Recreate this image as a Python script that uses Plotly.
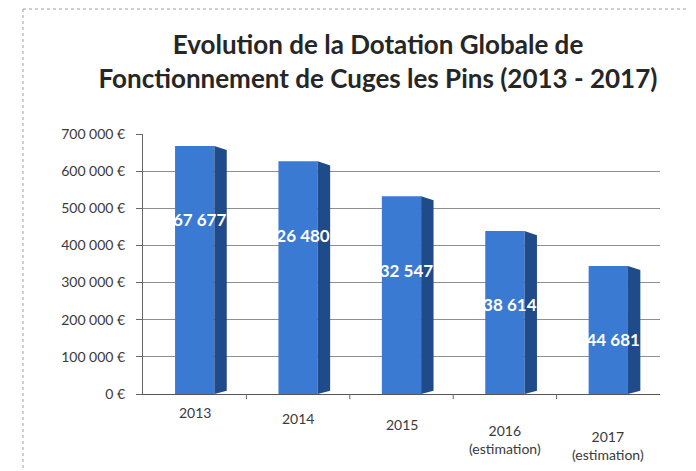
import plotly.graph_objects as go

categories = ["2013", "2014", "2015", "2016<br>(estimation)", "2017<br>(estimation)"]
values = [667677, 626480, 532547, 438614, 344681]
value_labels = ["667 677", "626 480", "532 547", "438 614", "344 681"]
y_ticks = [0, 100000, 200000, 300000, 400000, 500000, 600000, 700000]
y_tick_labels = ["0 €", "100 000 €", "200 000 €", "300 000 €", "400 000 €", "500 000 €", "600 000 €", "700 000 €"]

FRONT = "#3B7AD3"
SIDE = "#1F4B8A"
W = 0.38
DX = 0.12

# page offset compensation (body margin of 8px)
OFF = 8
L, T, PW, PH = 143 - OFF, 134 - OFF, 517, 260

xs = list(range(len(categories)))
fig = go.Figure()

for i, v in zip(xs, values):
    xr = i + W / 2
    fig.add_trace(go.Scatter(
        x=[xr, xr + DX, xr + DX, xr, xr],
        y=[0, 9000, v - 11000, v, 0],
        mode="lines", fill="toself", fillcolor=SIDE,
        line=dict(width=0, color=SIDE), hoverinfo="skip", showlegend=False))

fig.add_trace(go.Bar(
    x=xs, y=values, width=W, marker=dict(color=FRONT, line=dict(width=0)),
    showlegend=False, hoverinfo="skip"))

fig.add_trace(go.Scatter(
    x=xs, y=[v - 205000 for v in values], mode="text", text=value_labels,
    textfont=dict(family="Lato", size=17, color="white", weight="bold"),
    showlegend=False, hoverinfo="skip"))

# category labels with a slight perspective drop
for i, c in zip(xs, categories):
    fig.add_annotation(x=i, xref="x", y=0, yref="paper", yanchor="top",
                       yshift=-8 - 6 * i, text=c, showarrow=False,
                       font=dict(family="Lato", size=14, color="#3a3a3a"))

fig.update_layout(
    width=696, height=471,
    margin=dict(l=L, r=696 - L - PW, t=T, b=471 - T - PH),
    paper_bgcolor="white", plot_bgcolor="white",
    font=dict(family="Lato", color="#3a3a3a", size=13),
    title=dict(
        text="Evolution de la Dotation Globale de<br>Fonctionnement de Cuges les Pins (2013 - 2017)",
        x=(378 - OFF) / 696, xref="container", xanchor="center",
        y=1 - 46 / 471, yref="container", yanchor="top",
        font=dict(family="Lato", size=26, color="#262626", weight="bold")),
    xaxis=dict(
        range=[-0.5, 4.5], tickvals=xs, ticktext=[""] * len(xs),
        showgrid=False, zeroline=False, showline=True, linecolor="#555555", linewidth=1,
        ticks="", fixedrange=True),
    yaxis=dict(
        range=[0, 700000], tickvals=y_ticks, ticktext=y_tick_labels,
        showgrid=True, gridcolor="#8f8f8f", gridwidth=1, zeroline=False,
        showline=True, linecolor="#666666", linewidth=1,
        ticks="outside", ticklen=6, tickcolor="#666666", ticklabelstandoff=8,
        tickfont=dict(size=14, color="#3a3a3a"), fixedrange=True),
)

for i in xs[:-1]:
    fig.add_shape(type="line", xref="x", yref="paper", x0=i + 0.5, x1=i + 0.5,
                  y0=0, y1=-0.02, line=dict(color="#666666", width=1))

fx = (23 - 143) / PW
fy = (394 - 9) / PH
fig.add_shape(type="line", xref="paper", yref="paper",
              x0=fx, x1=fx, y0=-0.4, y1=fy,
              line=dict(color="#a0a0a0", width=1, dash="dot"))
fig.add_shape(type="line", xref="paper", yref="paper",
              x0=fx, x1=1.1, y0=fy, y1=fy,
              line=dict(color="#a0a0a0", width=1, dash="dot"))

fig.write_html("out.html")
